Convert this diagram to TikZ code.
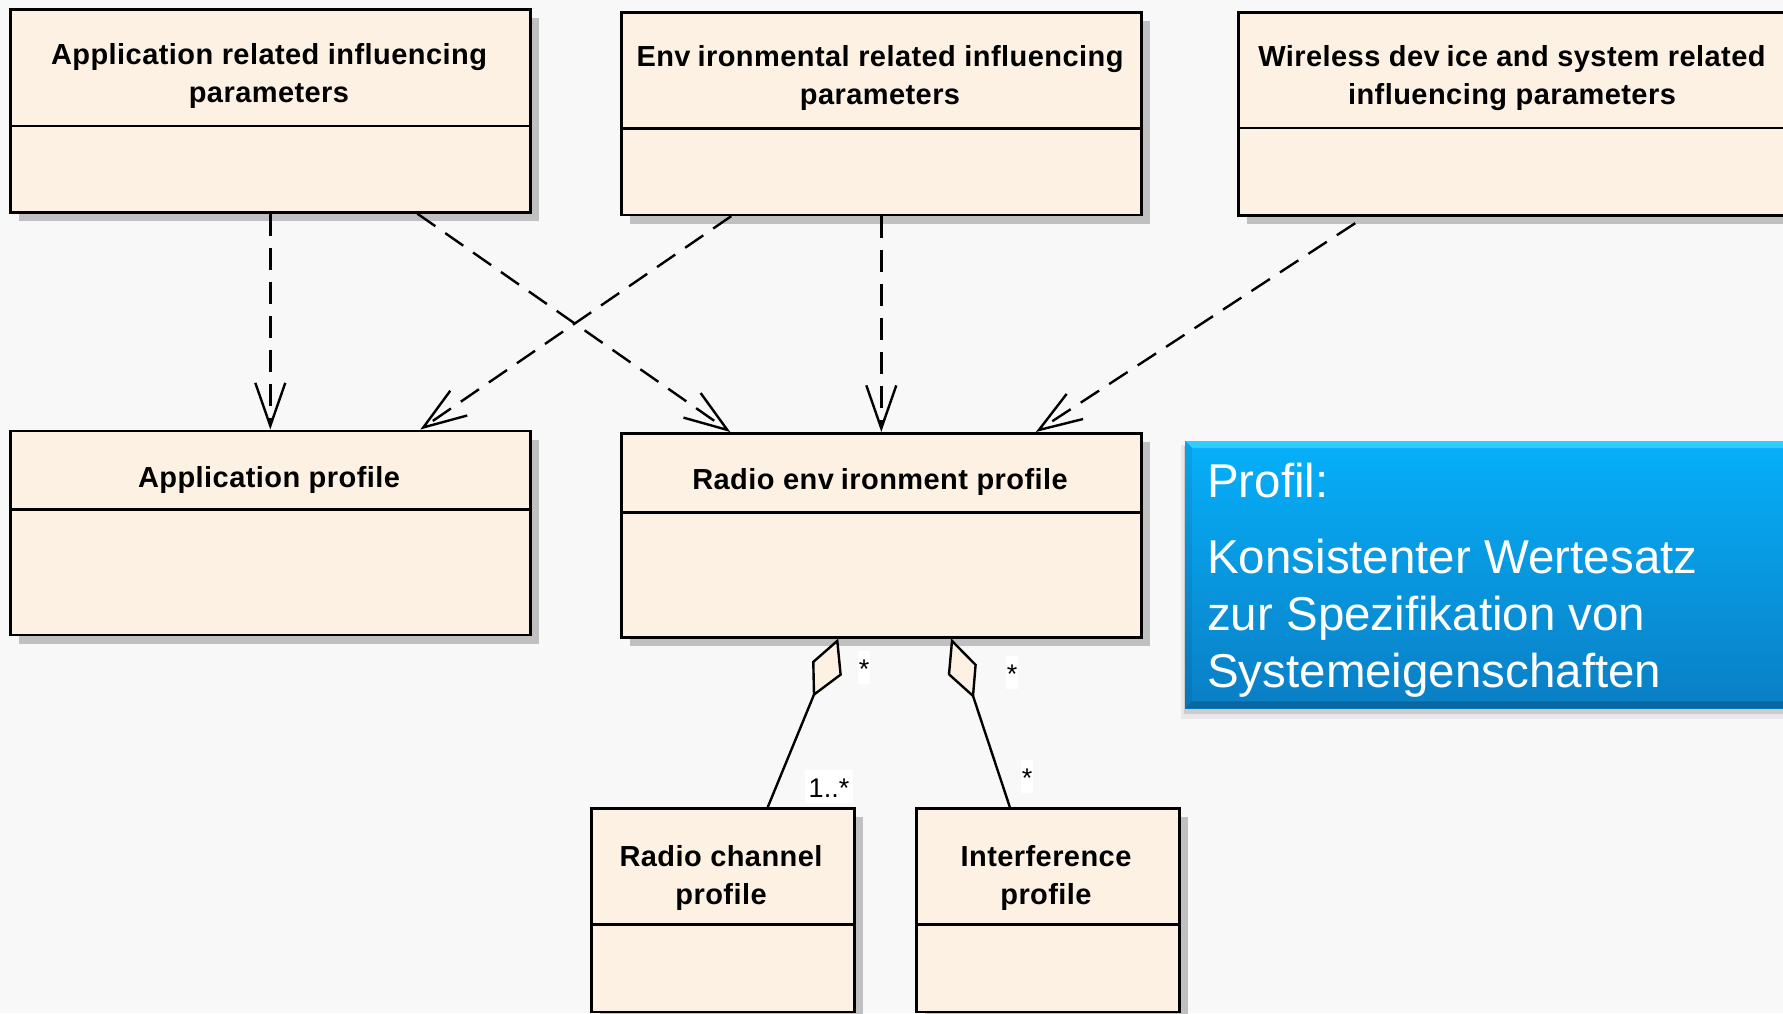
\documentclass[tikz,border=0pt]{standalone}
\usepackage{fontspec}
\setmainfont{Liberation Sans}
\newfontfamily\titlefont{Liberation Sans}[LetterSpace=1.5]
\usetikzlibrary{arrows.meta,calc,shadows}

\definecolor{pagebg}{HTML}{F8F8F8}
\definecolor{boxfill}{HTML}{FCF1E2}
\definecolor{boxshadow}{HTML}{C0C0C0}
\definecolor{noteTop}{HTML}{06B0FA}
\definecolor{noteBot}{HTML}{0A7EC4}
\definecolor{noteEdgeTop}{HTML}{30CCFF}
\definecolor{noteEdgeLeftTop}{HTML}{0AA2EA}
\definecolor{noteEdgeLeftBot}{HTML}{0876B8}
\definecolor{noteEdgeBot}{HTML}{0866A0}

\tikzset{
  classbox/.style={draw=black, line width=2.6pt, fill=boxfill, anchor=north west,
    inner sep=0pt,
    general shadow={fill=boxshadow, shadow xshift=9pt, shadow yshift=-9pt}},
  divider/.style={draw=black, line width=2.8pt},
  titletext/.style={anchor=base, inner sep=0pt,
    font=\titlefont\bfseries\fontsize{29}{38}\selectfont},
  dep/.style={draw=black, line width=2.4pt, dash pattern=on 22pt off 12pt,
    -{Straight Barb[length=43pt,width=30pt]}},
  assoc/.style={draw=black, line width=2.4pt},
  aggdiamond/.style={draw=black, line width=2.4pt, fill=boxfill},
  mult/.style={anchor=base, fill=white, inner xsep=1pt, inner ysep=1.5pt,
    text height=26pt, text depth=4pt, font=\fontsize{27}{30}\selectfont},
  notetext/.style={anchor=base west, inner sep=0pt, text=white,
    font=\fontsize{47.5}{57}\selectfont},
}

\newcommand{\twolines}[2]{\begin{tabular}[t]{@{}c@{}}#1\\#2\end{tabular}}

\begin{document}
\begin{tikzpicture}[x=1pt,y=-1pt]
  \useasboundingbox (0,0) rectangle (1783,1013);
  \clip (0,0) rectangle (1783,1013);
  \fill[pagebg] (0,0) rectangle (1783,1013);

  % ---- blue definition panel ----
  \fill[black!9]  (1181,445) rectangle (1795,719);
  \fill[black!20] (1184,446) rectangle (1795,714);
  \node[anchor=north west, minimum width=612pt, minimum height=267pt, inner sep=0pt,
        top color=noteTop, bottom color=noteBot] (note) at (1185,441) {};
  \fill[noteEdgeTop] (note.north west) -- (note.north east)
        -- ($(note.north east)+(0,7)$) -- ($(note.north west)+(7,7)$) -- cycle;
  \shade[top color=noteEdgeLeftTop, bottom color=noteEdgeLeftBot]
        (note.north west) -- ($(note.north west)+(7,7)$)
        -- ($(note.south west)+(7,-7)$) -- (note.south west) -- cycle;
  \fill[noteEdgeBot] (note.south west) -- ($(note.south west)+(7,-7)$)
        -- ($(note.south east)+(0,-7)$) -- (note.south east) -- cycle;
  \node[notetext] (nhead)  at (1207,497) {Profil:};
  \node[notetext] (nline1) at (1207,573) {Konsistenter Wertesatz};
  \node[notetext] (nline2) at (1207,630) {zur Spezifikation von};
  \node[notetext] (nline3) at (1207,687) {Systemeigenschaften};

  % ---- influencing parameter classes ----
  \node[classbox, minimum width=520pt, minimum height=203pt] (a) at (9,8) {};
  \draw[divider] ($(a.north west)+(0,118)$) -- ($(a.north east)+(0,118)$);
  \node[titletext] (atitle) at (269,64)
    {\twolines{Application related influencing}{parameters}};

  \node[classbox, minimum width=520pt, minimum height=202.5pt] (e) at (620,11) {};
  \draw[divider] ($(e.north west)+(0,117.5)$) -- ($(e.north east)+(0,117.5)$);
  \node[titletext] (etitle) at (880,66.5)
    {\twolines{Env\kern7pt ironmental related influencing}{parameters}};

  \node[classbox, minimum width=550pt, minimum height=203pt] (w) at (1237,11) {};
  \draw[divider] ($(w.north west)+(0,117)$) -- ($(w.north east)+(0,117)$);
  \node[titletext] (wtitle) at (1512,66.5)
    {\twolines{Wireless dev\kern7pt ice and system related}{influencing parameters}};

  % ---- profiles ----
  \node[classbox, minimum width=520pt, minimum height=204pt] (ap) at (9,429.5) {};
  \draw[divider] ($(ap.north west)+(0,80)$) -- ($(ap.north east)+(0,80)$);
  \node[titletext] (aptitle) at (269,487) {Application profile};

  \node[classbox, minimum width=520pt, minimum height=204pt] (rep) at (620,432) {};
  \draw[divider] ($(rep.north west)+(0,80.5)$) -- ($(rep.north east)+(0,80.5)$);
  \node[titletext] (reptitle) at (880,489.5) {Radio env\kern7pt ironment profile};

  \node[classbox, minimum width=263pt, minimum height=203.5pt] (rc) at (590,807) {};
  \draw[divider] ($(rc.north west)+(0,117.5)$) -- ($(rc.north east)+(0,117.5)$);
  \node[titletext] (rctitle) at (721,866) {\twolines{Radio channel}{profile}};

  \node[classbox, minimum width=263pt, minimum height=203.5pt] (ip) at (915,807) {};
  \draw[divider] ($(ip.north west)+(0,117.5)$) -- ($(ip.north east)+(0,117.5)$);
  \node[titletext] (iptitle) at (1046,866) {\twolines{Interference}{profile}};

  % ---- dependencies ----
  \draw[dep] (a.south) -- (ap.north);
  \draw[dep] ([xshift=147pt]a.south) -- ([xshift=-151pt]rep.north);
  \draw[dep] ([xshift=-150pt]e.south) -- ([xshift=150pt]ap.north);
  \draw[dep] (e.south) -- (rep.north);
  \draw[dep, dash phase=22pt] ([xshift=-148pt]w.south) -- ([xshift=154.5pt]rep.north);

  % ---- aggregations ----
  \coordinate (dga) at ($(rep.south)+(-44,2.3)$);
  \coordinate (dgaend) at ($(dga)+(-23.3,53.7)$);
  \draw[assoc] (dgaend) -- ($(rc.north)+(45,0)$);
  \draw[aggdiamond] (dga) -- ++(3.3,33.7) -- ++(-26.6,20) -- ++(-0.7,-32.7) -- cycle;

  \coordinate (dgb) at ($(rep.south)+(70.7,2.3)$);
  \coordinate (dgbend) at ($(dgb)+(21,55)$);
  \draw[assoc] (dgbend) -- ($(ip.north)+(-38,0)$);
  \draw[aggdiamond] (dgb) -- ++(23.6,24) -- ++(-2.6,31) -- ++(-24,-21.6) -- cycle;

  % ---- multiplicities ----
  \node[mult] (m1) at (864,678) {*};
  \node[mult, inner xsep=4pt] (m2) at (829,797) {1..*};
  \node[mult] (m3) at (1012,683.5) {*};
  \node[mult] (m4) at (1027,787.5) {*};
\end{tikzpicture}
\end{document}
